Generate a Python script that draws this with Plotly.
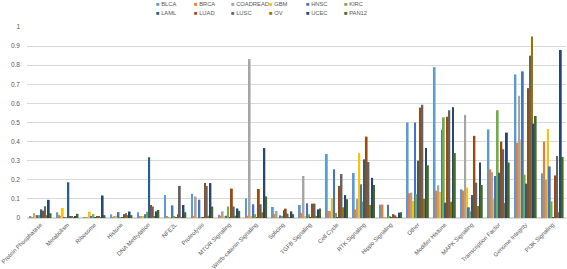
import plotly.graph_objects as go

categories = ["Protein Phosphatase", "Metabolism", "Ribosome", "Histone", "DNA Methylation",
              "NFE2L", "Proteolysis", "MTOR Signaling", "Wnt/b-catenin Signaling", "Splicing",
              "TGFB Signaling", "Cell Cycle", "RTK Signaling", "Hippo Signaling", "Other",
              "Modifier Histone", "MAPK Signaling", "Transcription Factor", "Genome Integrity",
              "PI3K Signaling"]

series_names = ["BLCA", "BRCA", "COADREAD", "GBM", "HNSC", "KIRC",
                "LAML", "LUAD", "LUSC", "OV", "UCEC", "PAN12"]

# values per category, in series order
protein_phosphatase = [0.010, 0.005, 0.025, 0.015, 0.015, 0.015, 0.045, 0.038, 0.062, 0.015, 0.095, 0.025]
metabolism = [0.030, 0.015, 0.008, 0.052, 0.005, 0.003, 0.187, 0.010, 0.010, 0.003, 0.010, 0.022]
ribosome = [0.002, 0.004, 0.003, 0.033, 0.008, 0.020, 0.002, 0.008, 0.010, 0.003, 0.118, 0.015]
histone = [0.019, 0.003, 0.010, 0.012, 0.031, 0.002, 0.002, 0.020, 0.025, 0.015, 0.034, 0.015]
dna_methylation = [0.030, 0.008, 0.008, 0.008, 0.020, 0.033, 0.318, 0.068, 0.060, 0.010, 0.035, 0.042]
nfe2l = [0.120, 0.007, 0.002, 0.002, 0.066, 0.010, 0.002, 0.020, 0.168, 0.003, 0.068, 0.030]
proteolysis = [0.127, 0.010, 0.112, 0.003, 0.096, 0.005, 0.002, 0.183, 0.168, 0.012, 0.183, 0.060]
mtor = [0.017, 0.012, 0.035, 0.010, 0.012, 0.060, 0.002, 0.154, 0.060, 0.012, 0.050, 0.037]
wnt = [0.103, 0.012, 0.832, 0.010, 0.072, 0.020, 0.003, 0.152, 0.072, 0.030, 0.366, 0.113]
splicing = [0.058, 0.020, 0.037, 0.005, 0.014, 0.010, 0.040, 0.049, 0.023, 0.005, 0.035, 0.020]
tgfb = [0.068, 0.026, 0.220, 0.008, 0.077, 0.020, 0.002, 0.075, 0.075, 0.010, 0.045, 0.050]
cell_cycle = [0.335, 0.037, 0.037, 0.105, 0.255, 0.026, 0.003, 0.168, 0.230, 0.056, 0.120, 0.098]
rtk = [0.236, 0.045, 0.100, 0.340, 0.176, 0.085, 0.307, 0.426, 0.293, 0.068, 0.210, 0.173]
hippo = [0.070, 0.070, 0.004, 0.002, 0.070, 0.007, 0.002, 0.020, 0.014, 0.004, 0.028, 0.030]
other = [0.500, 0.130, 0.133, 0.090, 0.500, 0.125, 0.300, 0.578, 0.593, 0.100, 0.367, 0.276]
modifier_histone = [0.790, 0.143, 0.171, 0.136, 0.462, 0.527, 0.080, 0.530, 0.564, 0.085, 0.580, 0.340]
mapk = [0.150, 0.143, 0.540, 0.160, 0.056, 0.035, 0.120, 0.430, 0.185, 0.063, 0.290, 0.173]
transcription_factor = [0.464, 0.255, 0.240, 0.098, 0.220, 0.564, 0.237, 0.400, 0.360, 0.078, 0.447, 0.290]
genome_integrity = [0.752, 0.394, 0.640, 0.410, 0.768, 0.227, 0.180, 0.680, 0.850, 0.950, 0.494, 0.534]
pi3k = [0.234, 0.400, 0.200, 0.466, 0.270, 0.087, 0.005, 0.223, 0.325, 0.030, 0.880, 0.320]

category_values = [protein_phosphatase, metabolism, ribosome, histone, dna_methylation, nfe2l,
                   proteolysis, mtor, wnt, splicing, tgfb, cell_cycle, rtk, hippo, other,
                   modifier_histone, mapk, transcription_factor, genome_integrity, pi3k]

colors = ["#5B9BD5", "#ED7D31", "#A5A5A5", "#FFC000", "#4472C4", "#70AD47",
          "#255E91", "#9E480E", "#636363", "#997300", "#264478", "#43682B"]

FONT = "Liberation Sans"
TXT = "#595959"

fig = go.Figure()
for s, name in enumerate(series_names):
    fig.add_trace(go.Bar(
        x=categories,
        y=[cv[s] for cv in category_values],
        name=name,
        marker=dict(color=colors[s], line=dict(width=0)),
        showlegend=False,
    ))

W, H = 567, 269
ML, MR, MT, MB = 27, 1, 27, 51
pw = W - ML - MR
ph = H - MT - MB

# custom compact legend (two rows of six, Excel-style)
annotations = []
for i, name in enumerate(series_names):
    row, col = divmod(i, 6)
    px = 154 + col * 37.6
    py = 4.5 + row * 8.5
    annotations.append(dict(
        xref="paper", yref="paper",
        x=(px - ML) / pw, y=(H - MB - py) / ph,
        xanchor="left", yanchor="middle",
        text=f"<span style='color:{colors[i]}'>■</span> {name}",
        showarrow=False,
        font=dict(family=FONT, size=5.8, color=TXT),
    ))

fig.update_layout(
    width=W, height=H,
    margin=dict(l=ML, r=MR, t=MT, b=MB, pad=0, autoexpand=False),
    barmode="group",
    bargap=0.18,
    bargroupgap=0,
    plot_bgcolor="white",
    paper_bgcolor="white",
    font=dict(family=FONT, size=7, color=TXT),
    annotations=annotations,
)
fig.update_xaxes(
    type="category",
    tickangle=-45,
    tickfont=dict(family=FONT, size=5.9, color=TXT),
    showgrid=False,
    showline=True,
    linecolor="#D9D9D9",
    linewidth=1,
    ticks="",
    automargin=False,
)
fig.update_yaxes(
    range=[0, 1],
    dtick=0.1,
    tickfont=dict(family=FONT, size=6.5, color=TXT),
    showgrid=True,
    gridcolor="#D9D9D9",
    gridwidth=1,
    zeroline=True,
    zerolinecolor="#D9D9D9",
    showline=False,
    ticks="",
    ticklabelstandoff=6,
    automargin=False,
)

fig.write_html(
    "out.html",
    config={"displayModeBar": False},
    post_script="document.body.style.margin='0';document.body.style.overflow='hidden';",
)
